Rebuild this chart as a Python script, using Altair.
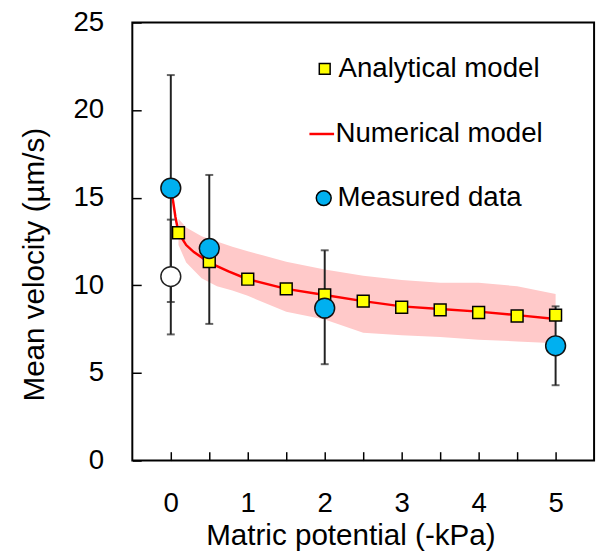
import altair as alt
import pandas as pd

# ---------------- data ----------------
ana_x = [0.1, 0.5, 1.0, 1.5, 2.0, 2.5, 3.0, 3.5, 4.0, 4.5, 5.0]
ana_y = [13.0, 11.35, 10.35, 9.8, 9.45, 9.1, 8.75, 8.6, 8.45, 8.25, 8.3]

num_x = [0.0, 0.03, 0.06, 0.1, 0.2, 0.3, 0.5, 0.75, 1.0, 1.5, 2.0, 2.5, 3.0, 3.5, 4.0, 4.5, 5.0]
num_y = [15.5, 14.8, 13.9, 13.0, 12.3, 11.9, 11.3, 10.8, 10.35, 9.8, 9.45, 9.1, 8.8, 8.65, 8.5, 8.3, 8.08]

band_x = [0.1, 0.2, 0.4, 0.6, 0.8, 1.0, 1.5, 2.0, 2.5, 3.0, 3.5, 4.0, 4.5, 5.0]
band_hi = [13.8, 13.3, 12.8, 12.5, 12.2, 11.95, 11.35, 10.9, 10.55, 10.3, 10.15, 10.15, 9.95, 9.5]
band_lo = [12.3, 11.3, 10.4, 9.95, 9.7, 9.4, 8.5, 8.05, 7.3, 7.15, 7.05, 6.9, 6.8, 6.7]

meas_x = [0, 0.5, 2, 5]
meas_y = [15.55, 12.1, 8.7, 6.55]
meas_lo = [9.05, 7.8, 5.5, 4.3]
meas_hi = [22.0, 16.3, 12.0, 8.8]

open_x = [0]
open_y = [10.5]
open_lo = [7.2]
open_hi = [13.75]

x_ticks = [0, 0.5, 1, 1.5, 2, 2.5, 3, 3.5, 4, 4.5, 5]
y_ticks = [0, 5, 10, 15, 20, 25]

FONT = "Liberation Sans"

# ---------------- tables ----------------
ana_df = pd.DataFrame({"x": ana_x, "y": ana_y, "series": "Analytical model"})
num_df = pd.DataFrame({"x": num_x, "y": num_y, "series": "Numerical model"})
band_df = pd.DataFrame({"x": band_x, "hi": band_hi, "lo": band_lo})
meas_df = pd.DataFrame({"x": meas_x, "y": meas_y, "series": "Measured data"})
open_df = pd.DataFrame({"x": open_x, "y": open_y})
err_df = pd.DataFrame({"x": meas_x + open_x, "lo": meas_lo + open_lo, "hi": meas_hi + open_hi})

xs = alt.Scale(domain=[-0.5, 5.5], nice=False, zero=False)
ys = alt.Scale(domain=[0, 25], nice=False, zero=True)

xaxis = alt.Axis(
    values=x_ticks, labelExpr="datum.value % 1 == 0 ? format(datum.value, 'd') : ''",
    offset=-9, tickSize=9, tickWidth=1.5, tickColor="black", domain=False, grid=False,
    labelPadding=30, labelFontSize=28, labelFont=FONT, labelColor="black",
    titleFontSize=30, titleFont=FONT, titleFontWeight="normal", titleColor="black",
    titlePadding=3, titleX=221,
)
yaxis = alt.Axis(
    values=y_ticks, offset=-9, tickSize=9, tickWidth=1.5, tickColor="black",
    domain=False, grid=False,
    labelPadding=29, labelFontSize=28, labelFont=FONT, labelColor="black",
    titleFontSize=30, titleFont=FONT, titleFontWeight="normal", titleColor="black",
    titlePadding=24, titleY=245,
)
XT = "Matric potential (-kPa)"
YT = "Mean velocity (\u00b5m/s)"


def X(field="x"):
    return alt.X(f"{field}:Q", scale=xs, axis=xaxis, title=XT)


def Y(field="y"):
    return alt.Y(f"{field}:Q", scale=ys, axis=yaxis, title=YT)


leg_common = dict(orient="none", title=None, labelFontSize=28, labelFont=FONT,
                  labelColor="black", padding=0, labelLimit=0, labelOffset=0)

band = alt.Chart(band_df).mark_area(color="#ffc9c9", opacity=1).encode(
    x=X(), y=Y("hi"), y2="lo:Q"
)

line = alt.Chart(num_df).mark_line(strokeWidth=2.5).encode(
    x=X(), y=Y(),
    stroke=alt.Stroke("series:N", scale=alt.Scale(domain=["Numerical model"], range=["#ff0000"]),
                      legend=alt.Legend(legendX=178, legendY=99, symbolType="stroke",
                                        symbolSize=625, symbolStrokeWidth=2.5,
                                        **leg_common)),
)

err_rule = alt.Chart(err_df).mark_rule(color="#222222", strokeWidth=2).encode(
    x=X(), y=Y("lo"), y2="hi:Q"
)
err_lo = alt.Chart(err_df).mark_tick(color="#222222", orient="horizontal", size=8, thickness=2).encode(
    x=X(), y=Y("lo")
)
err_hi = alt.Chart(err_df).mark_tick(color="#222222", orient="horizontal", size=8, thickness=2).encode(
    x=X(), y=Y("hi")
)

squares = alt.Chart(ana_df).mark_point(shape="square", filled=True, size=144, stroke="black",
                                        strokeWidth=1.5, opacity=1).encode(
    x=X(), y=Y(),
    fill=alt.Fill("series:N", scale=alt.Scale(domain=["Analytical model"], range=["#ffff00"]),
                  legend=alt.Legend(legendX=181, legendY=33, symbolType="square", symbolSize=121,
                                    symbolStrokeColor="black", symbolStrokeWidth=1.5,
                                    **leg_common)),
)

open_pt = alt.Chart(open_df).mark_point(shape="circle", filled=True, size=405, fill="white",
                                        stroke="#222222", strokeWidth=1.5, opacity=1).encode(
    x=X(), y=Y()
)

circles = alt.Chart(meas_df).mark_point(shape="circle", filled=True, size=405, stroke="#111111",
                                        strokeWidth=1.5, opacity=1).encode(
    x=X(), y=Y(),
    fill=alt.Fill("series:N", scale=alt.Scale(domain=["Measured data"], range=["#00b0f0"]),
                  legend=alt.Legend(legendX=180, legendY=164, symbolType="circle", symbolSize=227,
                                    symbolStrokeColor="black", symbolStrokeWidth=1.5,
                                    **leg_common)),
)

chart = alt.layer(
    band, line, err_rule, err_lo, err_hi, squares, open_pt, circles
).resolve_scale(
    fill="independent", stroke="independent"
).properties(
    width=468, height=444,
    autosize=alt.AutoSizeParams(type="none"),
    padding={"left": 126, "top": 11, "right": 6, "bottom": 91},
).configure_view(
    stroke="black", strokeWidth=2
)

chart.save("out.html", embed_options={"renderer": "svg", "actions": False})
